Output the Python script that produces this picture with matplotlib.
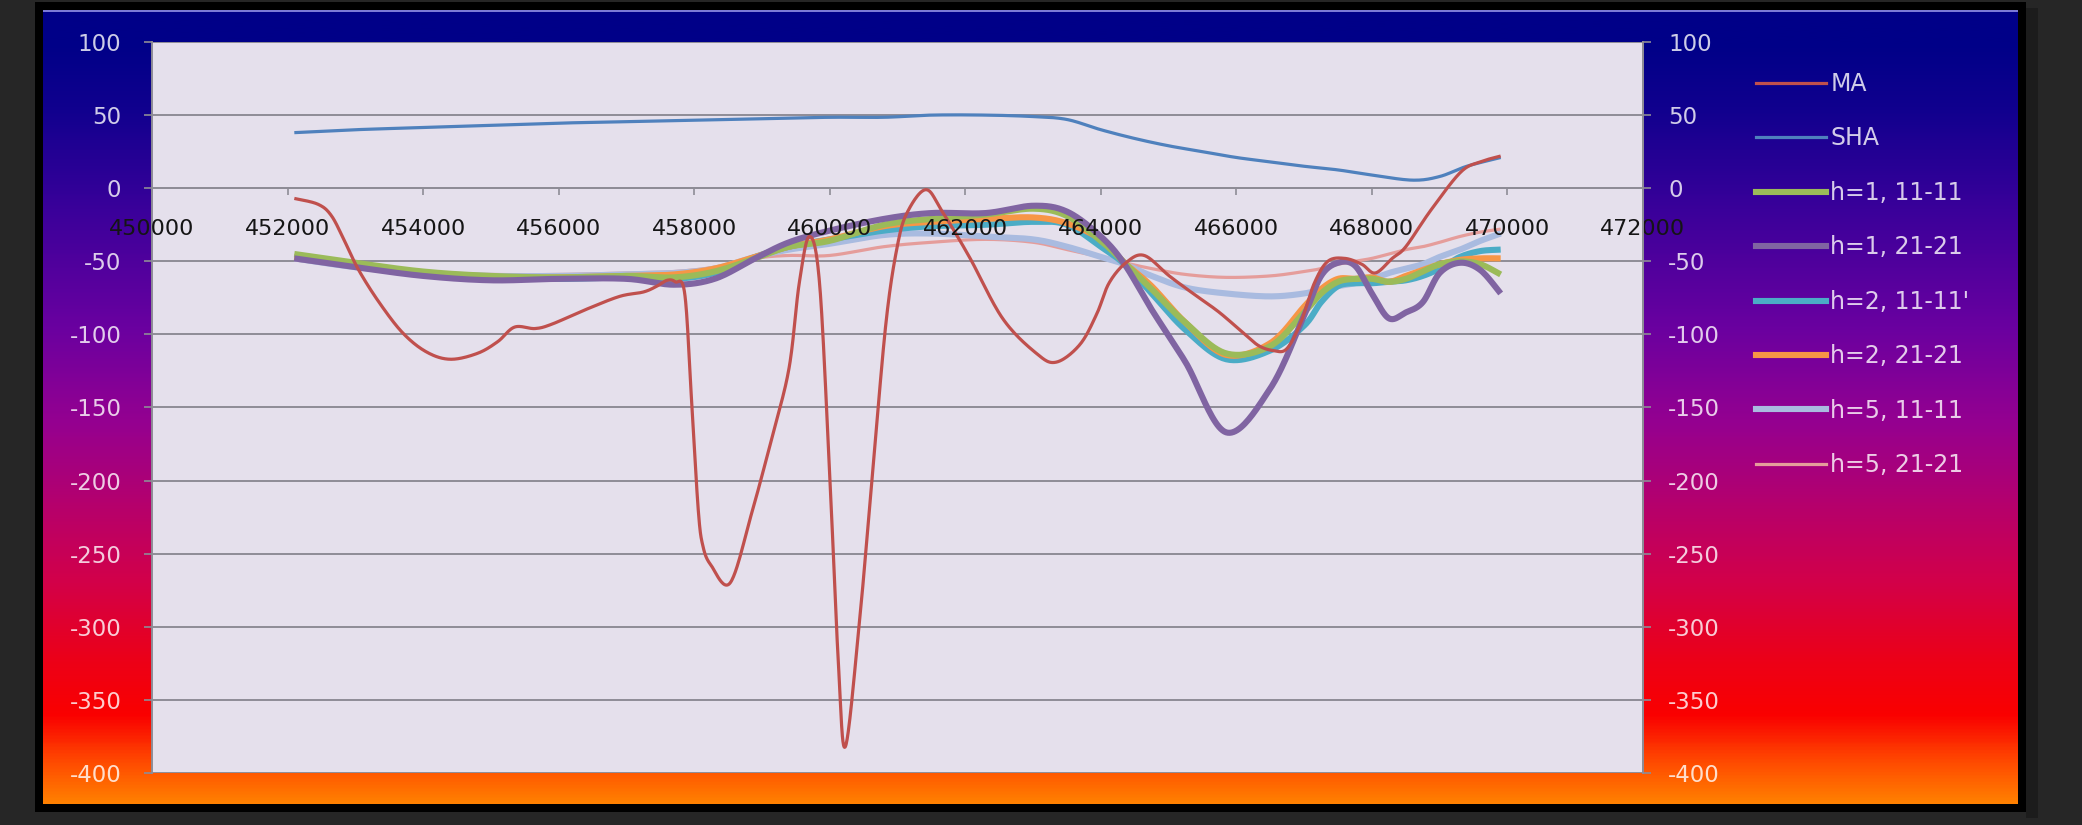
import numpy as np
import matplotlib
matplotlib.use("Agg")
import matplotlib.pyplot as plt
from matplotlib.colors import LinearSegmentedColormap, to_rgb
from matplotlib.patches import Rectangle
from matplotlib.lines import Line2D

W, H = 2082, 825

# MA profile
ma_x = [452100, 452450, 452650, 452850, 453050, 453350, 453700, 454050, 454400,
        454800, 455100, 455350, 455650, 455900, 456400, 456900, 457250, 457450,
        457600, 457720, 457860, 457960, 458060, 458130, 458250, 458530, 458850,
        459150, 459400, 459550, 459700, 459850, 460000, 460130, 460230, 460430,
        460630, 460830, 461000, 461150, 461420, 461660, 462060, 462550, 463050,
        463340, 463690, 463940, 464120, 464370, 464640, 465010, 465360, 465750,
        466150, 466340, 466540, 466740, 466950, 467150, 467350, 467600, 467850,
        468050, 468300, 468500, 468870, 469310, 469600, 469900]
ma_y = [-7, -11, -19, -37, -56, -78, -99, -112, -117,
        -113, -105, -95, -96, -93, -83, -74, -71, -67,
        -63, -64, -72, -144, -220, -245, -258, -270, -222,
        -170, -123, -65, -33, -65, -196, -327, -382, -301,
        -196, -92, -39, -16, -1, -16, -47, -89, -113,
        -119, -107, -86, -65, -51, -46, -60, -72, -85,
        -101, -108, -111, -110, -92, -65, -50, -48, -52,
        -58, -48, -40, -15, 11, 18, 22]

# SHA profile
sha_x = [452100, 453000, 454000, 455000, 456000, 457000, 458000, 459000, 460000,
         460800, 461500, 462300, 463000, 463500, 464000, 464500, 465000, 465500,
         466000, 466500, 467000, 467500, 468000, 468600, 469000, 469400, 469900]
sha_y = [38, 40, 41.5, 43, 44.5, 45.5, 46.5, 47.5, 48.5,
         48.5, 50, 50, 49, 47, 40, 34, 29, 25,
         21, 18, 15, 12.5, 9, 5.5, 8, 15, 21]

# filtered curves, common stations
h_x = [452100, 453000, 454000, 455000, 456000, 457000, 457700, 458300, 458900,
       459400, 460000, 460800, 461500, 462300, 463000, 463500, 464000, 464350,
       464750, 465250, 465850, 466500, 467000, 467250, 467500, 467750, 468000,
       468250, 468500, 468750, 469000, 469300, 469600, 469900]
h1_11 = [-45, -51, -57, -60, -61, -60, -61, -57, -48, -40, -36, -25, -21, -18, -14, -19, -36,
         -51, -69, -92, -113, -108, -85, -72, -64, -62, -62, -64, -62, -57, -52, -50, -52, -59]
h1_21 = [-48, -54, -60, -63, -62, -62, -66, -62, -48, -37, -29, -21, -17, -17, -12, -16, -33,
         -52, -83, -119, -167, -137, -87, -60, -51, -53, -72, -89, -85, -78, -58, -51, -56, -72]
h2_11 = [-47, -52, -58, -61, -62, -61, -62, -58, -47, -40, -35, -29, -26, -25, -23, -25, -40,
         -52, -72, -97, -117, -111, -94, -78, -67, -65, -65, -64, -63, -60, -55, -47, -43, -42]
h2_21 = [-47, -53, -58, -61, -61, -60, -59, -55, -47, -40, -35, -26, -23, -21, -20, -24, -35,
         -51, -67, -92, -114, -106, -81, -69, -62, -62, -61, -64, -60, -56, -52, -49, -48, -48]
h5_11 = [-48, -54, -58, -60, -60, -59, -58, -55, -47, -42, -38, -32, -31, -33, -35, -40, -47,
         -52, -60, -68, -72, -74, -72, -69, -67, -65, -62, -58, -55, -52, -47, -42, -36, -31]
h5_21 = [-49, -54, -58, -59, -59, -58, -57, -54, -48, -46, -46, -40, -37, -35, -37, -42, -47,
         -51, -55, -59, -61, -60, -57, -55, -52, -50, -48, -45, -42, -40, -37, -33, -30, -28]

names = ["MA", "SHA", "h=1, 11-11", "h=1, 21-21", "h=2, 11-11'", "h=2, 21-21",
         "h=5, 11-11", "h=5, 21-21"]
colors = ["#c0504d", "#4f81bd", "#9bbb59", "#8064a2", "#4bacc6", "#f79646",
          "#a9bbe0", "#e59d9b"]
widths = [2.3, 2.3, 4.4, 4.4, 4.4, 4.4, 4.4, 2.3]

x_ticks = list(range(450000, 472001, 2000))
y_ticks = list(range(100, -401, -50))

grad = LinearSegmentedColormap.from_list("bg", [
    (0.00, "#000088"), (0.04, "#000088"), (0.12, "#10008e"), (0.25, "#3a009a"),
    (0.40, "#6a00a0"), (0.52, "#950090"), (0.62, "#b4006e"), (0.72, "#d2004a"),
    (0.82, "#ec0018"), (0.89, "#fa0000"), (0.95, "#ff4a00"), (1.00, "#ff8000")])


def smooth(x, y, n=24):
    # bezier smoothing through the points, done in pixel-like units
    sx, sy = 22000 / 1491, 731 / 500
    P = np.column_stack([np.asarray(x, float) / sx, np.asarray(y, float) * sy])
    P = np.vstack([P[0], P, P[-1]])
    t = np.linspace(0, 1, n, endpoint=False)[:, None]
    out = []
    for i in range(1, len(P) - 2):
        p0, p1, p2, p3 = P[i - 1], P[i], P[i + 1], P[i + 2]
        c1 = p1 + (p2 - p0) / 6
        c2 = p2 - (p3 - p1) / 6
        out.append((1 - t) ** 3 * p1 + 3 * (1 - t) ** 2 * t * c1
                   + 3 * (1 - t) * t ** 2 * c2 + t ** 3 * p2)
    out.append(P[-2][None])
    out = np.vstack(out)
    return out[:, 0] * sx, out[:, 1] / sy


def tint(ypix, k=0.8):
    c = np.array(to_rgb(grad((ypix - 10) / 794)))
    return tuple(k + (1 - k) * c)


fig = plt.figure(figsize=(W / 100, H / 100), dpi=100, facecolor="#262626")

# frame and gradient backdrop
bg = fig.add_axes([0, 0, 1, 1])
bg.set_xlim(0, W)
bg.set_ylim(H, 0)
bg.axis("off")
bg.add_patch(Rectangle((2026, 8), 12, 810, color="#1c1c1c", lw=0, zorder=0))
bg.add_patch(Rectangle((35, 2), 1991, 810, color="#000000", lw=0, zorder=1))
bg.imshow(np.linspace(0, 1, 500)[:, None], cmap=grad, aspect="auto",
          extent=(43, 2018, 804, 10), interpolation="bilinear", zorder=2)
bg.add_patch(Rectangle((43, 9.5), 1975, 2.5, color="#7c7ad6", lw=0, zorder=3))
bg.set_xlim(0, W)
bg.set_ylim(H, 0)

ax = fig.add_axes([152 / W, 1 - 773 / H, 1491 / W, 731 / H])
ax.set_facecolor("#e5e0ec")
ax.set_xlim(450000, 472000)
ax.set_ylim(-400, 100)
ax.set_xticks(x_ticks)
ax.set_xticklabels([str(v) for v in x_ticks])
ax.set_yticks(y_ticks)
ax.set_yticklabels([str(v) for v in y_ticks])
ax.yaxis.grid(True, color="#8e8c96", lw=1.4)
ax.set_axisbelow(True)
ax.xaxis.set_zorder(5)  # station labels sit over the curves

grey = "#8e8c96"
ax.spines["top"].set_visible(False)
ax.spines["bottom"].set_position(("data", 0))
ax.spines["bottom"].set_color(grey)
ax.spines["bottom"].set_linewidth(1.4)
ax.spines["bottom"].set_zorder(1)
ax.spines["left"].set_color(grey)
ax.spines["left"].set_linewidth(1.4)
ax.spines["right"].set_color(grey)
ax.spines["right"].set_linewidth(1.4)
ax.tick_params(axis="x", direction="out", length=5, width=1.2, color=grey,
               labelsize=16, pad=17, labelcolor="#151515")
ax.tick_params(axis="y", direction="out", length=6, width=1.2, color=grey,
               labelsize=16.5, pad=16)

series = [ma_y, sha_y, h1_11, h1_21, h2_11, h2_21, h5_11, h5_21]
xs = [ma_x, sha_x] + [h_x] * 6
draw_order = [7, 6, 4, 5, 2, 3, 1, 0]
for z, i in enumerate(draw_order):
    sx_, sy_ = smooth(xs[i], series[i])
    ax.plot(sx_, sy_, color=colors[i], lw=widths[i], zorder=3 + z * 0.01,
            solid_capstyle="butt", solid_joinstyle="round")

ax2 = ax.twinx()
ax2.set_ylim(-400, 100)
ax2.set_yticks(y_ticks)
ax2.set_yticklabels([str(v) for v in y_ticks])
for s in ["top", "bottom", "left"]:
    ax2.spines[s].set_visible(False)
ax2.spines["right"].set_color(grey)
ax2.spines["right"].set_linewidth(1.4)
ax2.tick_params(axis="y", direction="out", length=6, width=1.2, color=grey,
                labelsize=16.5, pad=12)

for a in (ax, ax2):
    for v, lab in zip(y_ticks, a.get_yticklabels()):
        lab.set_color(tint(42 + (100 - v) * 731 / 500))

handles = [Line2D([], [], color=c, lw=w) for c, w in zip(colors, widths)]
leg = fig.legend(handles, names, loc="upper left",
                 bbox_to_anchor=(1756 / W, 1 - 72 / H), frameon=False,
                 fontsize=17, handlelength=2.97, handletextpad=0.17,
                 labelspacing=1.29, borderpad=0, borderaxespad=0)
for k, txt in enumerate(leg.get_texts()):
    txt.set_color(tint(84 + k * 54.2))

fig.savefig("out.png", dpi=100, facecolor=fig.get_facecolor())
